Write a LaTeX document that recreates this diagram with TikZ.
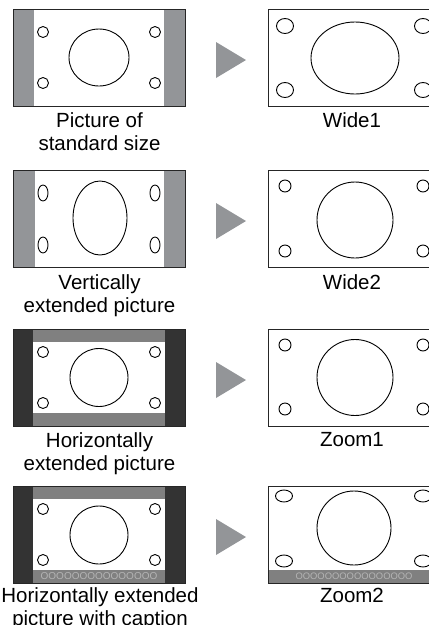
\documentclass[tikz,border=0pt]{standalone}
\usepackage{fontspec}
\setmainfont{Liberation Sans}
\definecolor{sidegray}{RGB}{147,149,152}
\definecolor{bandgray}{RGB}{128,128,128}
\definecolor{darkside}{RGB}{51,51,51}
\definecolor{capgray}{RGB}{180,180,180}
\tikzset{
  frame/.style={draw=black!85, line width=0.9pt},
  outline/.style={draw=black, line width=0.9pt},
  playtri/.style={fill=sidegray},
  caption/.style={font=\fontsize{20.5}{23}\selectfont, align=center, anchor=north, inner sep=0pt},
  subtitle/.style={font=\fontsize{10}{10}\selectfont, text=capgray, inner sep=0pt}
}
\begin{document}
\begin{tikzpicture}[x=1pt,y=-1pt]
\useasboundingbox (0,0) rectangle (429,625);
\clip (0,0) rectangle (429,625);
% standard size -> Wide1
\fill[white] (13,9) rectangle (185,106);
\fill[sidegray] (13,9) rectangle (34,106);
\fill[sidegray] (164,9) rectangle (185,106);
\draw[frame] (13,9) rectangle (185,106);
\draw[outline] (43,32) circle[radius=5.5];
\draw[outline] (43,83) circle[radius=5.5];
\draw[outline] (155,32) circle[radius=5.5];
\draw[outline] (155,83) circle[radius=5.5];
\draw[outline] (99,57.5) ellipse[x radius=30, y radius=28.5];
\node[caption] (std) at (99.5,112.5) {Picture of\\standard size};
\fill[playtri] (216,42) -- (246,60) -- (216,78) -- cycle;
\draw[frame] (268,9) rectangle (440,106);
\draw[outline] (285,26) ellipse[x radius=8.5, y radius=7.5];
\draw[outline] (285,90) ellipse[x radius=8.5, y radius=7.5];
\draw[outline] (423,26) ellipse[x radius=8.5, y radius=7.5];
\draw[outline] (423,90) ellipse[x radius=8.5, y radius=7.5];
\draw[outline] (355,58) ellipse[x radius=44, y radius=36];
\node[caption] (wide1) at (352,112.5) {Wide1};
% vertically extended -> Wide2
\fill[white] (13,170) rectangle (185,267);
\fill[sidegray] (13,170) rectangle (35,267);
\fill[sidegray] (164,170) rectangle (185,267);
\draw[frame] (13,170) rectangle (185,267);
\draw[outline] (43,193) ellipse[x radius=5, y radius=8];
\draw[outline] (43,245) ellipse[x radius=5, y radius=8];
\draw[outline] (155,193) ellipse[x radius=5, y radius=8];
\draw[outline] (155,245) ellipse[x radius=5, y radius=8];
\draw[outline] (100,218) ellipse[x radius=27, y radius=37];
\node[caption] (vert) at (99.5,274) {Vertically\\extended picture};
\fill[playtri] (216,203) -- (246,221) -- (216,239) -- cycle;
\draw[frame] (268,170) rectangle (440,267);
\draw[outline] (285,186) circle[radius=6];
\draw[outline] (285,251) circle[radius=6];
\draw[outline] (423,186) circle[radius=6];
\draw[outline] (423,251) circle[radius=6];
\draw[outline] (355,220) circle[radius=38];
\node[caption] (wide2) at (352,274) {Wide2};
% horizontally extended -> Zoom1
\fill[white] (13,329) rectangle (185,426);
\fill[darkside] (13,329) rectangle (33,426);
\fill[darkside] (165,329) rectangle (185,426);
\fill[bandgray] (33,329) rectangle (165,342);
\fill[bandgray] (33,413) rectangle (165,426);
\draw[frame] (13,329) rectangle (185,426);
\draw[outline] (43,352) circle[radius=5.5];
\draw[outline] (43,403) circle[radius=5.5];
\draw[outline] (155,352) circle[radius=5.5];
\draw[outline] (155,403) circle[radius=5.5];
\draw[outline] (99,377.5) circle[radius=29];
\node[caption] (horiz) at (99.5,432.5) {Horizontally\\extended picture};
\fill[playtri] (216,362) -- (246,380) -- (216,398) -- cycle;
\draw[frame] (268,329) rectangle (440,426);
\draw[outline] (285,345) circle[radius=6];
\draw[outline] (285,409) circle[radius=6];
\draw[outline] (423,345) circle[radius=6];
\draw[outline] (423,409) circle[radius=6];
\draw[outline] (355,377.5) circle[radius=38];
\node[caption] (zoom1) at (352,432.5) {Zoom1};
% horizontally extended with caption -> Zoom2
\fill[white] (13,486) rectangle (185,583);
\fill[darkside] (13,486) rectangle (33,583);
\fill[darkside] (165,486) rectangle (185,583);
\fill[bandgray] (33,486) rectangle (165,499);
\fill[bandgray] (33,570) rectangle (165,583);
\draw[frame] (13,486) rectangle (185,583);
\node[subtitle] (capl) at (99,576.5) {OOOOOOOOOOOOOOO};
\draw[outline] (43,509) circle[radius=5.5];
\draw[outline] (43,560) circle[radius=5.5];
\draw[outline] (155,509) circle[radius=5.5];
\draw[outline] (155,560) circle[radius=5.5];
\draw[outline] (99,535) circle[radius=29];
\node[caption] (capt) at (100,587.5) {Horizontally extended\\picture with caption};
\fill[playtri] (216,519) -- (246,537) -- (216,555) -- cycle;
\fill[white] (268,486) rectangle (440,583);
\fill[bandgray] (268,570) rectangle (440,583);
\draw[frame] (268,486) rectangle (440,583);
\node[subtitle, font=\fontsize{9.4}{10}\selectfont] (capr) at (354,576.5) {OOOOOOOOOOOOOOOO};
\draw[outline] (284,496) ellipse[x radius=8.5, y radius=6];
\draw[outline] (284,561) ellipse[x radius=8.5, y radius=6];
\draw[outline] (423,496) ellipse[x radius=8.5, y radius=6];
\draw[outline] (423,561) ellipse[x radius=8.5, y radius=6];
\draw[outline] (354,528) circle[radius=37];
\node[caption] (zoom2) at (352,587.5) {Zoom2};
\end{tikzpicture}
\end{document}
